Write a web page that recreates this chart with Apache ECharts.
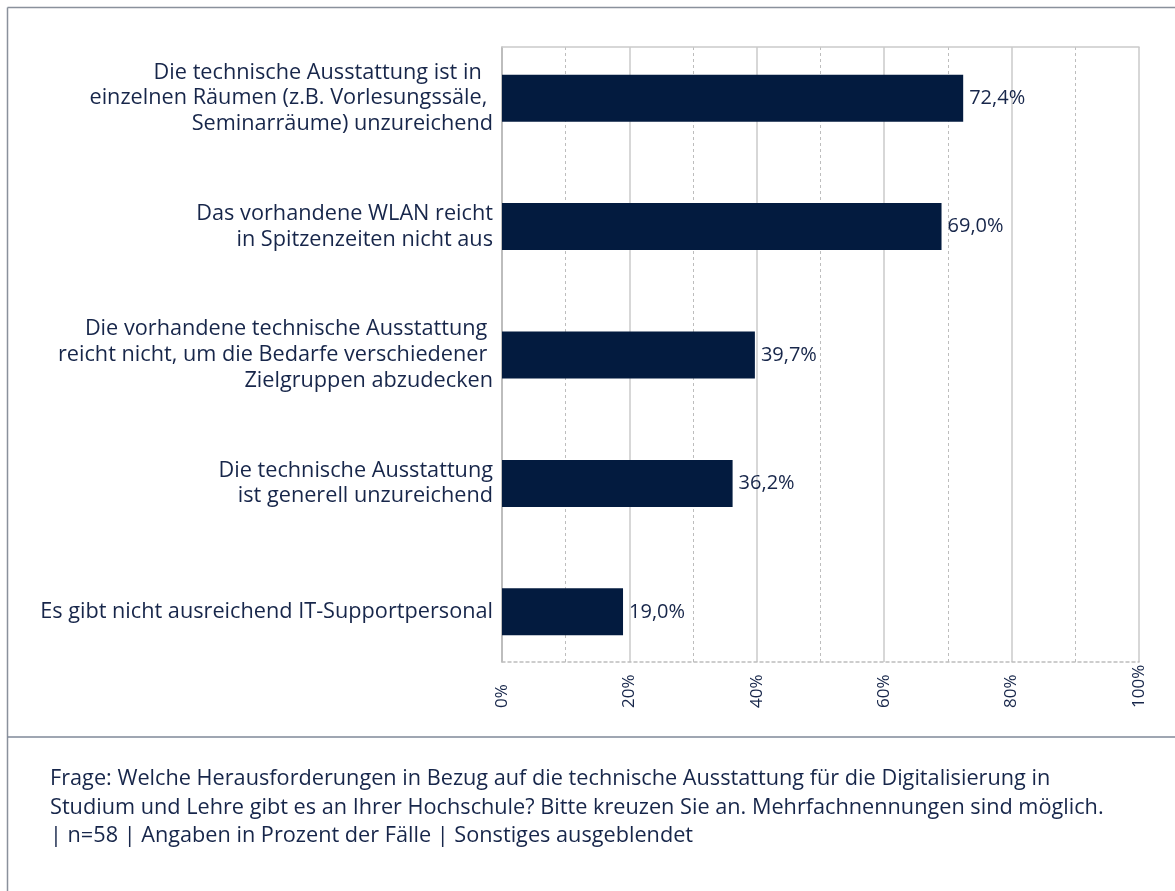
<!DOCTYPE html>
<html>
<head>
<meta charset="utf-8">
<style>
  html, body { margin: 0; padding: 0; background: #ffffff; }
  #chart { width: 1175px; height: 891px; }
</style>
<script src="https://cdn.jsdelivr.net/npm/echarts@6/dist/echarts.min.js"></script>
</head>
<body>
<div id="chart"></div>
<script>
// Herausforderungen bei der technischen Ausstattung (Mehrfachnennungen, % der Fälle)
const categories = [
  'Die technische Ausstattung ist in  \neinzelnen Räumen (z.B. Vorlesungssäle, \nSeminarräume) unzureichend',
  'Das vorhandene WLAN reicht\nin Spitzenzeiten nicht aus',
  'Die vorhandene technische Ausstattung \nreicht nicht, um die Bedarfe verschiedener \nZielgruppen abzudecken',
  'Die technische Ausstattung\nist generell unzureichend',
  'Es gibt nicht ausreichend IT-Supportpersonal'
];
const values = [72.4, 69.0, 39.7, 36.2, 19.0];
const footerLines = [
  'Frage: Welche Herausforderungen in Bezug auf die technische Ausstattung für die Digitalisierung in',
  'Studium und Lehre gibt es an Ihrer Hochschule? Bitte kreuzen Sie an. Mehrfachnennungen sind möglich.',
  '| n=58 | Angaben in Prozent der Fälle | Sonstiges ausgeblendet'
];

const FONT = '"Open Sans"';
const TEXT = '#17264a';
const BAR = '#031b3f';
const FRAME = '#8a919c';

const chart = echarts.init(document.getElementById('chart'), null, { renderer: 'canvas' });

const fmtPct = v => v.toFixed(1).replace('.', ',') + '%';

chart.setOption({
  animation: false,
  backgroundColor: '#ffffff',
  title: {
    text: footerLines.join('\n'),
    left: 50,
    top: 765,
    padding: 0,
    textStyle: { fontFamily: FONT, fontSize: 21.7, fontWeight: 'normal', color: TEXT, lineHeight: 28.5 }
  },
  grid: [
    // plot frame with gridlines
    { left: 502, top: 47, width: 637, height: 615 },
    // bar bands
    { left: 502, top: 34, width: 637, height: 642 }
  ],
  xAxis: [
    {
      type: 'value', gridIndex: 0, min: 0, max: 100, interval: 20,
      axisLine: { show: true, lineStyle: { color: '#bdbdbd', width: 1.5, type: [3, 3] } },
      axisTick: { show: false },
      axisLabel: {
        rotate: 90, align: 'left', verticalAlign: 'middle', margin: 46,
        fontFamily: FONT, fontSize: 17, color: TEXT,
        formatter: v => v + '%'
      },
      splitLine: { show: true, lineStyle: { color: '#cacaca', width: 1.5 } },
      minorTick: { show: false, splitNumber: 2 },
      minorSplitLine: { show: true, lineStyle: { color: '#bdbdbd', width: 1, type: [3, 3] } }
    },
    {
      type: 'value', gridIndex: 0, position: 'top', min: 0, max: 100,
      axisLine: { show: true, lineStyle: { color: '#cacaca', width: 1.5 } },
      axisTick: { show: false }, axisLabel: { show: false }, splitLine: { show: false }
    },
    {
      type: 'value', gridIndex: 1, min: 0, max: 100, show: false
    }
  ],
  yAxis: [
    {
      type: 'value', gridIndex: 0, min: 0, max: 1,
      axisLine: { show: true, lineStyle: { color: '#b4b4b4', width: 1.5 } },
      axisTick: { show: false }, axisLabel: { show: false }, splitLine: { show: false }
    },
    {
      type: 'category', gridIndex: 1, inverse: true, data: categories,
      axisLine: { show: false }, axisTick: { show: false },
      axisLabel: {
        margin: 9, fontFamily: FONT, fontSize: 21.7, color: TEXT,
        lineHeight: 25.7, align: 'right'
      }
    }
  ],
  series: [
    {
      type: 'bar', xAxisIndex: 2, yAxisIndex: 1, data: values,
      barWidth: 47,
      itemStyle: { color: BAR },
      label: {
        show: true, position: 'right', distance: 6,
        fontFamily: FONT, fontSize: 20, color: TEXT,
        formatter: p => fmtPct(p.value)
      }
    }
  ],
  graphic: [
    { type: 'line', shape: { x1: 7.5, y1: 7.5, x2: 1175, y2: 7.5 }, style: { stroke: FRAME, lineWidth: 1.5 } },
    { type: 'line', shape: { x1: 7.5, y1: 7.5, x2: 7.5, y2: 891 }, style: { stroke: FRAME, lineWidth: 1.5 } },
    { type: 'line', shape: { x1: 7.5, y1: 737, x2: 1175, y2: 737 }, style: { stroke: '#7f8898', lineWidth: 1.5 } }
  ]
});
</script>
</body>
</html>
